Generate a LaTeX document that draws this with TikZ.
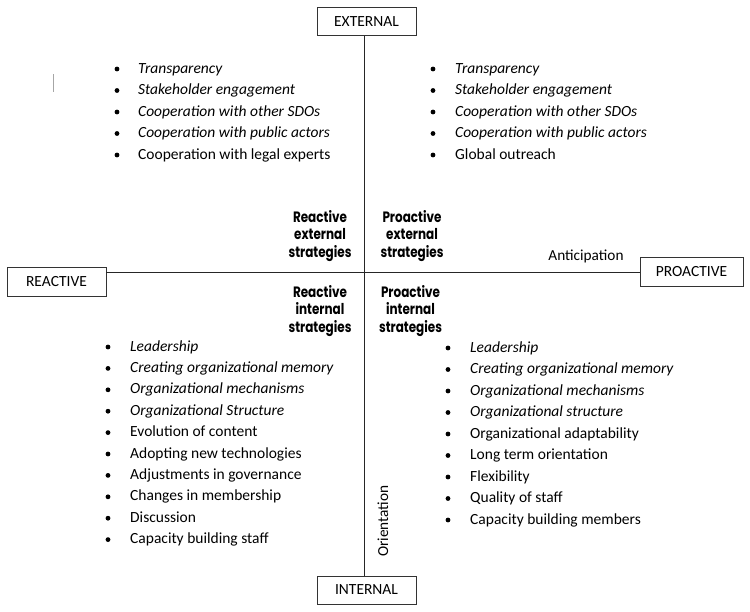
\documentclass[tikz,border=0pt]{standalone}
\usepackage{fontspec}
\setmainfont{Carlito}
\newfontfamily\labfont[FakeStretch=0.8]{Poppins}
\begin{document}
\begin{tikzpicture}[x=1pt,y=-1pt,
  axisline/.style={draw=black!85,line width=0.8pt},
  axisbox/.style={draw=black!80,line width=0.8pt,minimum height=28pt,inner sep=0pt,font=\fontsize{15.5}{18}\selectfont},
  itemtext/.style={anchor=base west,inner sep=0pt,font=\fontsize{15.5}{18}\selectfont},
  quadlabel/.style={align=center,inner sep=0pt,font=\labfont\bfseries\fontsize{15}{17.3}\selectfont},
  plainlabel/.style={inner sep=0pt,font=\fontsize{15.3}{18}\selectfont}]
\useasboundingbox (0,0) rectangle (750,611);
% boxes
\node[axisbox,minimum width=99pt] (ext) at (366.5,21.5) {EXTERNAL};
\node[axisbox,minimum width=99pt] (int) at (366.5,590) {INTERNAL};
\node[axisbox,minimum width=99pt,minimum height=29pt] (rea) at (56.5,281.5) {REACTIVE};
\node[axisbox,minimum width=103pt,minimum height=29pt] (pro) at (691.5,271.5) {PROACTIVE};
% axes
\coordinate (ax) at (364,0);
\coordinate (ay) at (0,272);
\draw[axisline] (ext.south -| ax) -- (int.north -| ax);
\draw[axisline] (rea.east |- ay) -- (pro.west |- ay);
% stray mark
\draw[black!35,line width=0.6pt] (53,74) -- (53,92);
% quadrant labels
\node[quadlabel] (rext) at (320,236) {Reactive\\external\\strategies};
\node[quadlabel] (pext) at (412,236) {Proactive\\external\\strategies};
\node[quadlabel] (rint) at (320,311) {Reactive\\internal\\strategies};
\node[quadlabel] (pint) at (410.5,311) {Proactive\\internal\\strategies};
\node[plainlabel] (ant) at (586,256) {Anticipation};
\node[plainlabel,rotate=90] (ori) at (383,521) {Orientation};
% lists
\foreach \t [count=\i] in {\textit{Transparency},\textit{Stakeholder engagement},\textit{Cooperation with other SDOs},\textit{Cooperation with public actors},Cooperation with legal experts}{
  \node[itemtext] (tl\i) at (138,{73+21.5*(\i-1)}) {\t};
  \fill ([shift={(-21,-4)}]tl\i.base west) circle (2.4pt);}
\foreach \t [count=\i] in {\textit{Transparency},\textit{Stakeholder engagement},\textit{Cooperation with other SDOs},\textit{Cooperation with public actors},Global outreach}{
  \node[itemtext] (tr\i) at (455,{73+21.5*(\i-1)}) {\t};
  \fill ([shift={(-22,-4)}]tr\i.base west) circle (2.4pt);}
\foreach \t [count=\i] in {\textit{Leadership},\textit{Creating organizational memory},\textit{Organizational mechanisms},\textit{Organizational Structure},Evolution of content,Adopting new technologies,Adjustments in governance,Changes in membership,Discussion,Capacity building staff}{
  \node[itemtext] (bl\i) at (130,{351+21.4*(\i-1)}) {\t};
  \fill ([shift={(-22,-4)}]bl\i.base west) circle (2.4pt);}
\foreach \t [count=\i] in {\textit{Leadership},\textit{Creating organizational memory},\textit{Organizational mechanisms},\textit{Organizational structure},Organizational adaptability,Long term orientation,Flexibility,Quality of staff,Capacity building members}{
  \node[itemtext] (br\i) at (470,{352+21.5*(\i-1)}) {\t};
  \fill ([shift={(-22,-4)}]br\i.base west) circle (2.4pt);}
\end{tikzpicture}
\end{document}
